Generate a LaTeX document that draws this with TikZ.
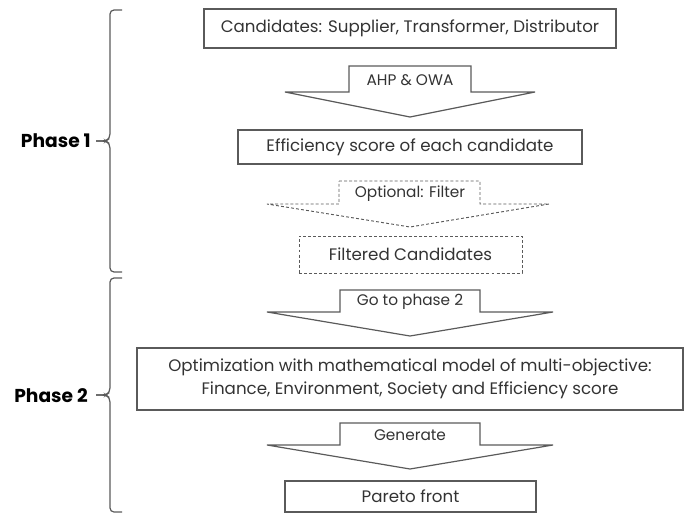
\documentclass[tikz,border=0pt]{standalone}
\usepackage{fontspec}
\setmainfont{Poppins}
\definecolor{lc}{HTML}{5A5A5A}
\definecolor{tc}{HTML}{333333}
\begin{document}
\begin{tikzpicture}[x=0.75pt,y=-0.75pt,
  box/.style={draw=lc, line width=0.9pt, inner sep=0pt, text=tc, align=center,
    font=\fontsize{12.5}{17}\selectfont},
  dbox/.style={box, dash pattern=on 2.2pt off 1.6pt, line width=0.7pt},
  blockarrow/.style={draw=lc, line width=0.9pt, line join=miter},
  dblockarrow/.style={blockarrow, dash pattern=on 2.2pt off 1.6pt, line width=0.7pt},
  albl/.style={text=tc, inner sep=0pt, font=\fontsize{11.5}{13}\selectfont},
  phase/.style={font=\bfseries\fontsize{14}{16}\selectfont, inner sep=0pt, anchor=east},
  brace/.style={draw=lc, line width=0.9pt, rounded corners=3pt}]
\useasboundingbox (0,0) rectangle (689,514);

% boxes
\node[box, minimum width=412*0.75pt, minimum height=39*0.75pt] (cand) at (410,28.5)
  {Candidates: Supplier, Transformer, Distributor};
\node[box, minimum width=344*0.75pt, minimum height=34*0.75pt] (eff) at (410,147)
  {Efficiency score of each candidate};
\node[dbox, minimum width=223*0.75pt, minimum height=37*0.75pt] (filt) at (410.5,254.5)
  {Filtered Candidates};
\node[box, minimum width=546*0.75pt, minimum height=62*0.75pt] (opt) at (410,379)
  {Optimization with mathematical model of multi-objective:\\Finance, Environment, Society and Efficiency score};
\node[box, minimum width=251*0.75pt, minimum height=31*0.75pt] (par) at (410.5,496.5)
  {Pareto front};

% block arrows
\draw[blockarrow] (349,66) -- (471,66) -- (471,92) -- (535,92) -- (410,117) -- (285,92) -- (349,92) -- cycle;
\node[albl] (a1) at (410,80) {AHP \& OWA};
\draw[dblockarrow] (339,181) -- (480,181) -- (480,204) -- (549,204) -- (410,227) -- (267,204) -- (339,204) -- cycle;
\node[albl] (a2) at (410,194) {Optional: Filter};
\draw[blockarrow] (340,290) -- (480,290) -- (480,312) -- (553,312) -- (410,336) -- (267,312) -- (340,312) -- cycle;
\node[albl] (a3) at (410,302) {Go to phase 2};
\draw[blockarrow] (340,423) -- (480,423) -- (480,445) -- (553,445) -- (410,469) -- (267,445) -- (340,445) -- cycle;
\node[albl] (a4) at (410,435) {Generate};

% braces
\coordinate (p1t) at (122,10);
\coordinate (p1b) at (122,272);
\coordinate (p1m) at (96,141);
\draw[brace] (p1t) -- (110,10) -- (110,138) -- (106,141) -- (p1m);
\draw[brace] (p1b) -- (110,272) -- (110,144) -- (106,141) -- (p1m);
\node[phase] (ph1) at (91,141) {Phase 1};

\coordinate (p2t) at (122,278);
\coordinate (p2b) at (122,512);
\coordinate (p2m) at (96,395);
\draw[brace] (p2t) -- (110,278) -- (110,392) -- (106,395) -- (p2m);
\draw[brace] (p2b) -- (110,512) -- (110,398) -- (106,395) -- (p2m);
\node[phase] (ph2) at (88,396) {Phase 2};
\end{tikzpicture}
\end{document}
